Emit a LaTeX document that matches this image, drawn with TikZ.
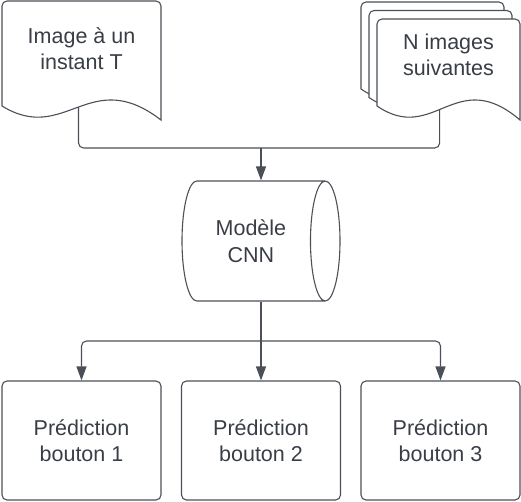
\documentclass[tikz,border=0pt]{standalone}
\usepackage{fontspec}
\setmainfont{Liberation Sans}
\usetikzlibrary{arrows.meta,shapes.geometric}
\definecolor{ink}{HTML}{393E46}
\definecolor{edge}{HTML}{4B5058}
\newcommand{\docshape}[6]{\draw[edge,line width=1.1pt,fill=white] (#1,#2+#4-14) {[rounded corners=5pt] -- (#1,#2) -- (#1+#3,#2) -- (#1+#3,#2+10)} -- (#1+#3,#2+#4) .. controls (#1+0.55*#3,#2+#4-55) and (#1+0.4*#3,#2+#4+25) .. (#1,#2+#4-14) coordinate[pos=#6] (#5) -- cycle}

\begin{document}
\begin{tikzpicture}[x=1pt,y=-1pt,
	txt/.style={text=ink,align=center,font=\fontsize{21.5}{26.5}\selectfont},
	predbox/.style={txt,draw=edge,line width=1.1pt,rounded corners=5pt,minimum width=159pt,minimum height=119pt},
	conn/.style={edge,line width=1.1pt,rounded corners=5pt},
	arr/.style={conn,-{Triangle[length=14pt,width=10pt]}}]
				\useasboundingbox (0,0) rectangle (521,501);
				
				\docshape{2}{1}{159}{119}{imgb}{0.5};
				\docshape{361}{2}{143}{101}{backb}{0.5};
				\docshape{369}{10.5}{143}{101}{midb}{0.5};
				\docshape{377}{19}{143}{101}{suivb}{0.55};
				
				\node[txt] (img) at (81.5,48.5) {Image à un\\instant T};
				\node[txt] (suiv) at (448.5,55) {N images\\suivantes};
				
				\node[txt,cylinder,draw=edge,line width=1.1pt,shape aspect=0.6,minimum width=120pt,minimum height=158pt,anchor=shape center] (cnn) at (261,241) {Modèle\\CNN};
				
				\node[predbox] (pred1) at (81.5,440.5) {Prédiction\\bouton 1};
				\node[predbox] (pred2) at (261,440.5) {Prédiction\\bouton 2};
				\node[predbox] (pred3) at (440.5,440.5) {Prédiction\\bouton 3};
				
				\coordinate (join) at (261,148);
				\coordinate (split) at (261,341);
				
				\draw[conn] (imgb) |- (join);
				\draw[conn] (suivb) |- (join);
				\draw[arr] (join) -- (join |- cnn.north);
				
				\draw[conn] (split |- cnn.south) -- (split);
				\draw[arr] (split) -| (pred1.north);
				\draw[arr] (split) -- (pred2.north);
				\draw[arr] (split) -| (pred3.north);
				
\end{tikzpicture}
\end{document}
